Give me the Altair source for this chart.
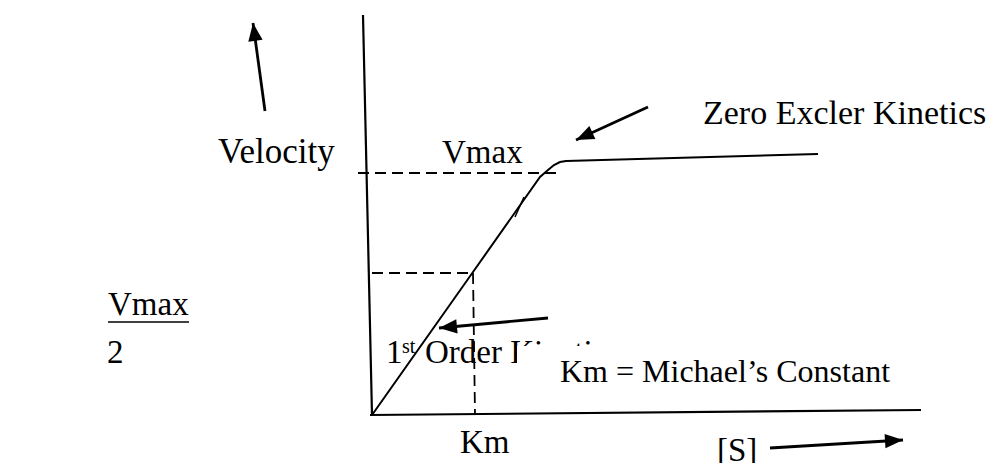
import math
import altair as alt
import pandas as pd

# ---- diagram data (diagram units; origin = where the two axes meet) ----
# Michaelis-Menten style curve: linear rise, bend, then plateau
curve_s = [0, 101, 168, 176, 182, 188, 194, 446]
curve_v = [0, 143, 238, 245, 250, 253, 254, 261]

# axes
axis_names = ["y-axis", "x-axis"]
axis_x1 = [-9, -2]
axis_y1 = [400, 0]
axis_x2 = [0, 549]
axis_y2 = [0, 5]

# dashed guide lines (Vmax, Vmax/2, Km)
guide_names = ["Vmax", "Vmax/2", "Km"]
guide_x1 = [-14, 0, 101]
guide_y1 = [242, 142, 142]
guide_x2 = [188, 101, 103]
guide_y2 = [242, 142, 0]

# small stroke drawn alongside the curve
stroke_x1 = [143]
stroke_y1 = [198]
stroke_x2 = [152]
stroke_y2 = [218]

# arrows: tail -> tip
arrow_names = ["velocity", "zero order", "first order", "substrate"]
arrow_tail_x = [-107, 276, 176, 398]
arrow_tail_y = [304, 308, 97, -33]
arrow_tip_x = [-119, 204, 67, 531]
arrow_tip_y = [392, 275, 87, -25]

# labels (left edge, baseline)
label_text = ["Velocity", "Vmax", "Zero Excler Kinetics", "1", "st",
              "Order Kinetics", "Km", "[S]", "Vmax", "2"]
label_x = [-154, 70, 331, 14, 30, 53, 88, 345, -264, -265]
label_y = [252, 252, 291, 52, 62, 52, -38, -46, 100, 52]
label_size = [35, 33, 34, 33, 20, 33, 33, 33, 33, 33]

# text box "Km = Michael's Constant" (its white box hides part of a label)
box_x1 = [145]
box_x2 = [528]
box_y1 = [13]
box_y2 = [69]
box_text = ["Km = Michael\u2019s Constant"]
box_tx = [188]
box_ty = [33]
box_fs = [32]

# underline of the left "Vmax"
under_x1 = [-264]
under_x2 = [-183]
under_y = [93]

# ---------------------------------------------------------------------
W, H = 979, 455
XDOM = [-364, 615]
YDOM = [-48, 407]
FONT = "Liberation Serif"

xs = alt.Scale(domain=XDOM, nice=False, zero=False)
ys = alt.Scale(domain=YDOM, nice=False, zero=False)


def X(f="x"):
    return alt.X(f"{f}:Q", scale=xs, axis=None)


def Y(f="y"):
    return alt.Y(f"{f}:Q", scale=ys, axis=None)


curve_df = pd.DataFrame({"x": curve_s, "y": curve_v, "o": range(len(curve_s))})
curve = alt.Chart(curve_df).mark_line(color="black", strokeWidth=2).encode(
    x=X(), y=Y(), order="o:Q")

axes_df = pd.DataFrame({"n": axis_names, "x": axis_x1, "y": axis_y1,
                        "x2": axis_x2, "y2": axis_y2})
axes = alt.Chart(axes_df).mark_rule(color="black", strokeWidth=2.2).encode(
    x=X(), y=Y(), x2="x2:Q", y2="y2:Q")

guide_df = pd.DataFrame({"n": guide_names, "x": guide_x1, "y": guide_y1,
                         "x2": guide_x2, "y2": guide_y2})
guides = alt.Chart(guide_df).mark_rule(color="black", strokeWidth=1.8,
                                       strokeDash=[11, 6]).encode(
    x=X(), y=Y(), x2="x2:Q", y2="y2:Q")

stroke_df = pd.DataFrame({"x": stroke_x1, "y": stroke_y1,
                          "x2": stroke_x2, "y2": stroke_y2})
stroke = alt.Chart(stroke_df).mark_rule(color="black", strokeWidth=1.5).encode(
    x=X(), y=Y(), x2="x2:Q", y2="y2:Q")

# arrows
angles = []
for tx, ty, hx, hy in zip(arrow_tail_x, arrow_tail_y, arrow_tip_x, arrow_tip_y):
    dx = hx - tx
    dy_screen = -(hy - ty)
    a = math.degrees(math.atan2(dx, -dy_screen)) % 360
    angles.append(a)

arrow_df = pd.DataFrame({"n": arrow_names, "x": arrow_tail_x, "y": arrow_tail_y,
                         "x2": arrow_tip_x, "y2": arrow_tip_y, "a": angles})
arrow_lines = alt.Chart(arrow_df).mark_rule(color="black", strokeWidth=2.8).encode(
    x=X(), y=Y(), x2="x2:Q", y2="y2:Q")
head_path = "M0,0L0.6,1.5L-0.6,1.5Z"
arrow_heads = alt.Chart(arrow_df).mark_point(
    shape=head_path, filled=True, color="black", opacity=1, size=576,
    strokeWidth=0).encode(
    x=X("x2"), y=Y("y2"), angle=alt.Angle("a:Q", scale=None))

label_df = pd.DataFrame({"t": label_text, "x": label_x, "y": label_y,
                         "fs": label_size})
labels = alt.Chart(label_df).mark_text(
    align="left", baseline="alphabetic", font=FONT, color="black").encode(
    x=X(), y=Y(), text="t:N", size=alt.Size("fs:Q", scale=None))

box_df = pd.DataFrame({"x": box_x1, "x2": box_x2, "y": box_y1, "y2": box_y2})
box = alt.Chart(box_df).mark_rect(color="white").encode(
    x=X(), x2="x2:Q", y=Y(), y2="y2:Q")

box_label_df = pd.DataFrame({"t": box_text, "x": box_tx, "y": box_ty, "fs": box_fs})
box_label = alt.Chart(box_label_df).mark_text(
    align="left", baseline="alphabetic", font=FONT, color="black").encode(
    x=X(), y=Y(), text="t:N", size=alt.Size("fs:Q", scale=None))

under_df = pd.DataFrame({"x": under_x1, "x2": under_x2, "y": under_y})
under = alt.Chart(under_df).mark_rule(color="black", strokeWidth=1.6).encode(
    x=X(), x2="x2:Q", y=Y())

chart = alt.layer(
    axes, guides, curve, stroke, arrow_lines, arrow_heads, labels, box,
    box_label, under
).properties(
    width=W, height=H, autosize=alt.AutoSizeParams(type="none"), padding=0,
    background="white"
).configure_view(stroke=None)

chart.save("out.html", embed_options={"renderer": "svg", "actions": False})
